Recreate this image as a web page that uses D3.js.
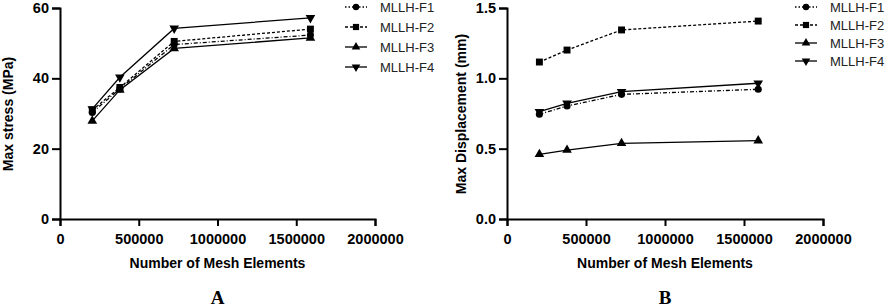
<!DOCTYPE html>
<html>
<head>
<meta charset="utf-8">
<script src="https://cdnjs.cloudflare.com/ajax/libs/d3/7.8.5/d3.min.js"></script>
<style>
    html, body { margin: 0; padding: 0; background: #fff; }
    svg { display: block; font-family: "Liberation Sans", Arial, sans-serif; }
    .axis path, .axis line { stroke: #000; stroke-width: 2; }
    .axis text { font-size: 14.5px; font-weight: bold; fill: #000; }
</style>
</head>
<body>
<svg id="canvas" width="886" height="308"></svg>
<script>
    // Data.
    const meshElements = [205000, 380000, 725000, 1590000];
    const seriesNames = ["MLLH-F1", "MLLH-F2", "MLLH-F3", "MLLH-F4"];
    const stressF1 = [30.3, 37.0, 49.6, 52.3];
    const stressF2 = [31.0, 37.4, 50.5, 54.0];
    const stressF3 = [27.9, 36.7, 48.5, 51.5];
    const stressF4 = [31.3, 40.3, 54.2, 57.2];
    const dispF1 = [0.745, 0.803, 0.886, 0.922];
    const dispF2 = [1.116, 1.201, 1.344, 1.407];
    const dispF3 = [0.460, 0.490, 0.538, 0.557];
    const dispF4 = [0.763, 0.822, 0.905, 0.965];
    const xTicks = [0, 500000, 1000000, 1500000, 2000000];
    const stressTicks = [0, 20, 40, 60];
    const dispTicks = [0, 0.5, 1.0, 1.5];

    // Series styles: dash pattern and marker.
    const styles = [
        { dash: "4,2,1,2", symbol: d3.symbolCircle, size: 40, rotate: 0 },
        { dash: "3,2", symbol: d3.symbolSquare, size: 48, rotate: 0 },
        { dash: null, symbol: d3.symbolTriangle, size: 40, rotate: 0 },
        { dash: null, symbol: d3.symbolTriangle, size: 40, rotate: 180 }
    ];

    let svg = d3.select("#canvas");

    function drawPanel(opts) {
        let xScale = d3.scaleLinear().domain([0, 2000000]).range([opts.left, opts.right]);
        let yScale = d3.scaleLinear().domain([0, opts.yMax]).range([219, 8]);

        svg.append("g")
            .attr("class", "axis")
            .attr("transform", "translate(0, 219)")
            .call(d3.axisBottom(xScale).tickValues(xTicks).tickFormat(d3.format("d"))
                .tickSizeOuter(0).tickSize(7).tickPadding(8));
        svg.append("g")
            .attr("class", "axis")
            .attr("transform", "translate(" + opts.left + ", 0)")
            .call(d3.axisLeft(yScale).tickValues(opts.yTicks).tickFormat(opts.yFormat)
                .tickSizeOuter(0).tickSize(8).tickPadding(3));

        // Axis titles.
        svg.append("text")
            .attr("x", (opts.left + opts.right) / 2)
            .attr("y", 268)
            .attr("text-anchor", "middle")
            .attr("font-size", 14)
            .attr("font-weight", "bold")
            .text("Number of Mesh Elements");
        svg.append("text")
            .attr("transform", "translate(" + opts.yTitleX + ", 114) rotate(-90)")
            .attr("text-anchor", "middle")
            .attr("font-size", 14)
            .attr("font-weight", "bold")
            .text(opts.yTitle);

        // Panel letter.
        svg.append("text")
            .attr("x", (opts.left + opts.right) / 2)
            .attr("y", 304)
            .attr("text-anchor", "middle")
            .attr("font-family", "'Liberation Serif', 'Times New Roman', serif")
            .attr("font-size", 19)
            .attr("font-weight", "bold")
            .text(opts.letter);

        let line = d3.line()
            .x((d, i) => xScale(meshElements[i]))
            .y(d => yScale(d));

        opts.series.forEach(function (values, k) {
            let st = styles[k];
            svg.append("path")
                .datum(values)
                .attr("fill", "none")
                .attr("stroke", "#000")
                .attr("stroke-width", 1.3)
                .attr("stroke-dasharray", st.dash)
                .attr("d", line);
            svg.selectAll(null)
                .data(values)
                .enter().append("path")
                .attr("d", d3.symbol().type(st.symbol).size(st.size))
                .attr("transform", (d, i) => "translate(" + xScale(meshElements[i]) + "," + yScale(d) + ") rotate(" + st.rotate + ")")
                .attr("fill", "#000");
        });

        // Legend.
        seriesNames.forEach(function (name, k) {
            let st = styles[k];
            let y = 7 + k * opts.legendStep;
            svg.append("line")
                .attr("x1", opts.legendX - 11).attr("x2", opts.legendX + 11)
                .attr("y1", y).attr("y2", y)
                .attr("stroke", "#000")
                .attr("stroke-width", 1.3)
                .attr("stroke-dasharray", k === 0 ? "1.5,2" : st.dash);
            svg.append("path")
                .attr("d", d3.symbol().type(st.symbol).size(st.size * 0.8))
                .attr("transform", "translate(" + opts.legendX + "," + y + ") rotate(" + st.rotate + ")")
                .attr("fill", "#000");
            svg.append("text")
                .attr("x", opts.legendX + 24)
                .attr("y", y)
                .attr("dy", "0.36em")
                .attr("font-size", 13)
                .attr("fill", "#222")
                .text(name);
        });
    }

    drawPanel({
        left: 60, right: 375, yMax: 60, yTicks: stressTicks, yFormat: d3.format("d"),
        yTitle: "Max stress (MPa)", yTitleX: 13, letter: "A",
        series: [stressF1, stressF2, stressF3, stressF4],
        legendX: 356, legendStep: 20
    });
    drawPanel({
        left: 507, right: 823, yMax: 1.5, yTicks: dispTicks, yFormat: d3.format(".1f"),
        yTitle: "Max Displacement (mm)", yTitleX: 466, letter: "B",
        series: [dispF1, dispF2, dispF3, dispF4],
        legendX: 806, legendStep: 18
    });
</script>
</body>
</html>
